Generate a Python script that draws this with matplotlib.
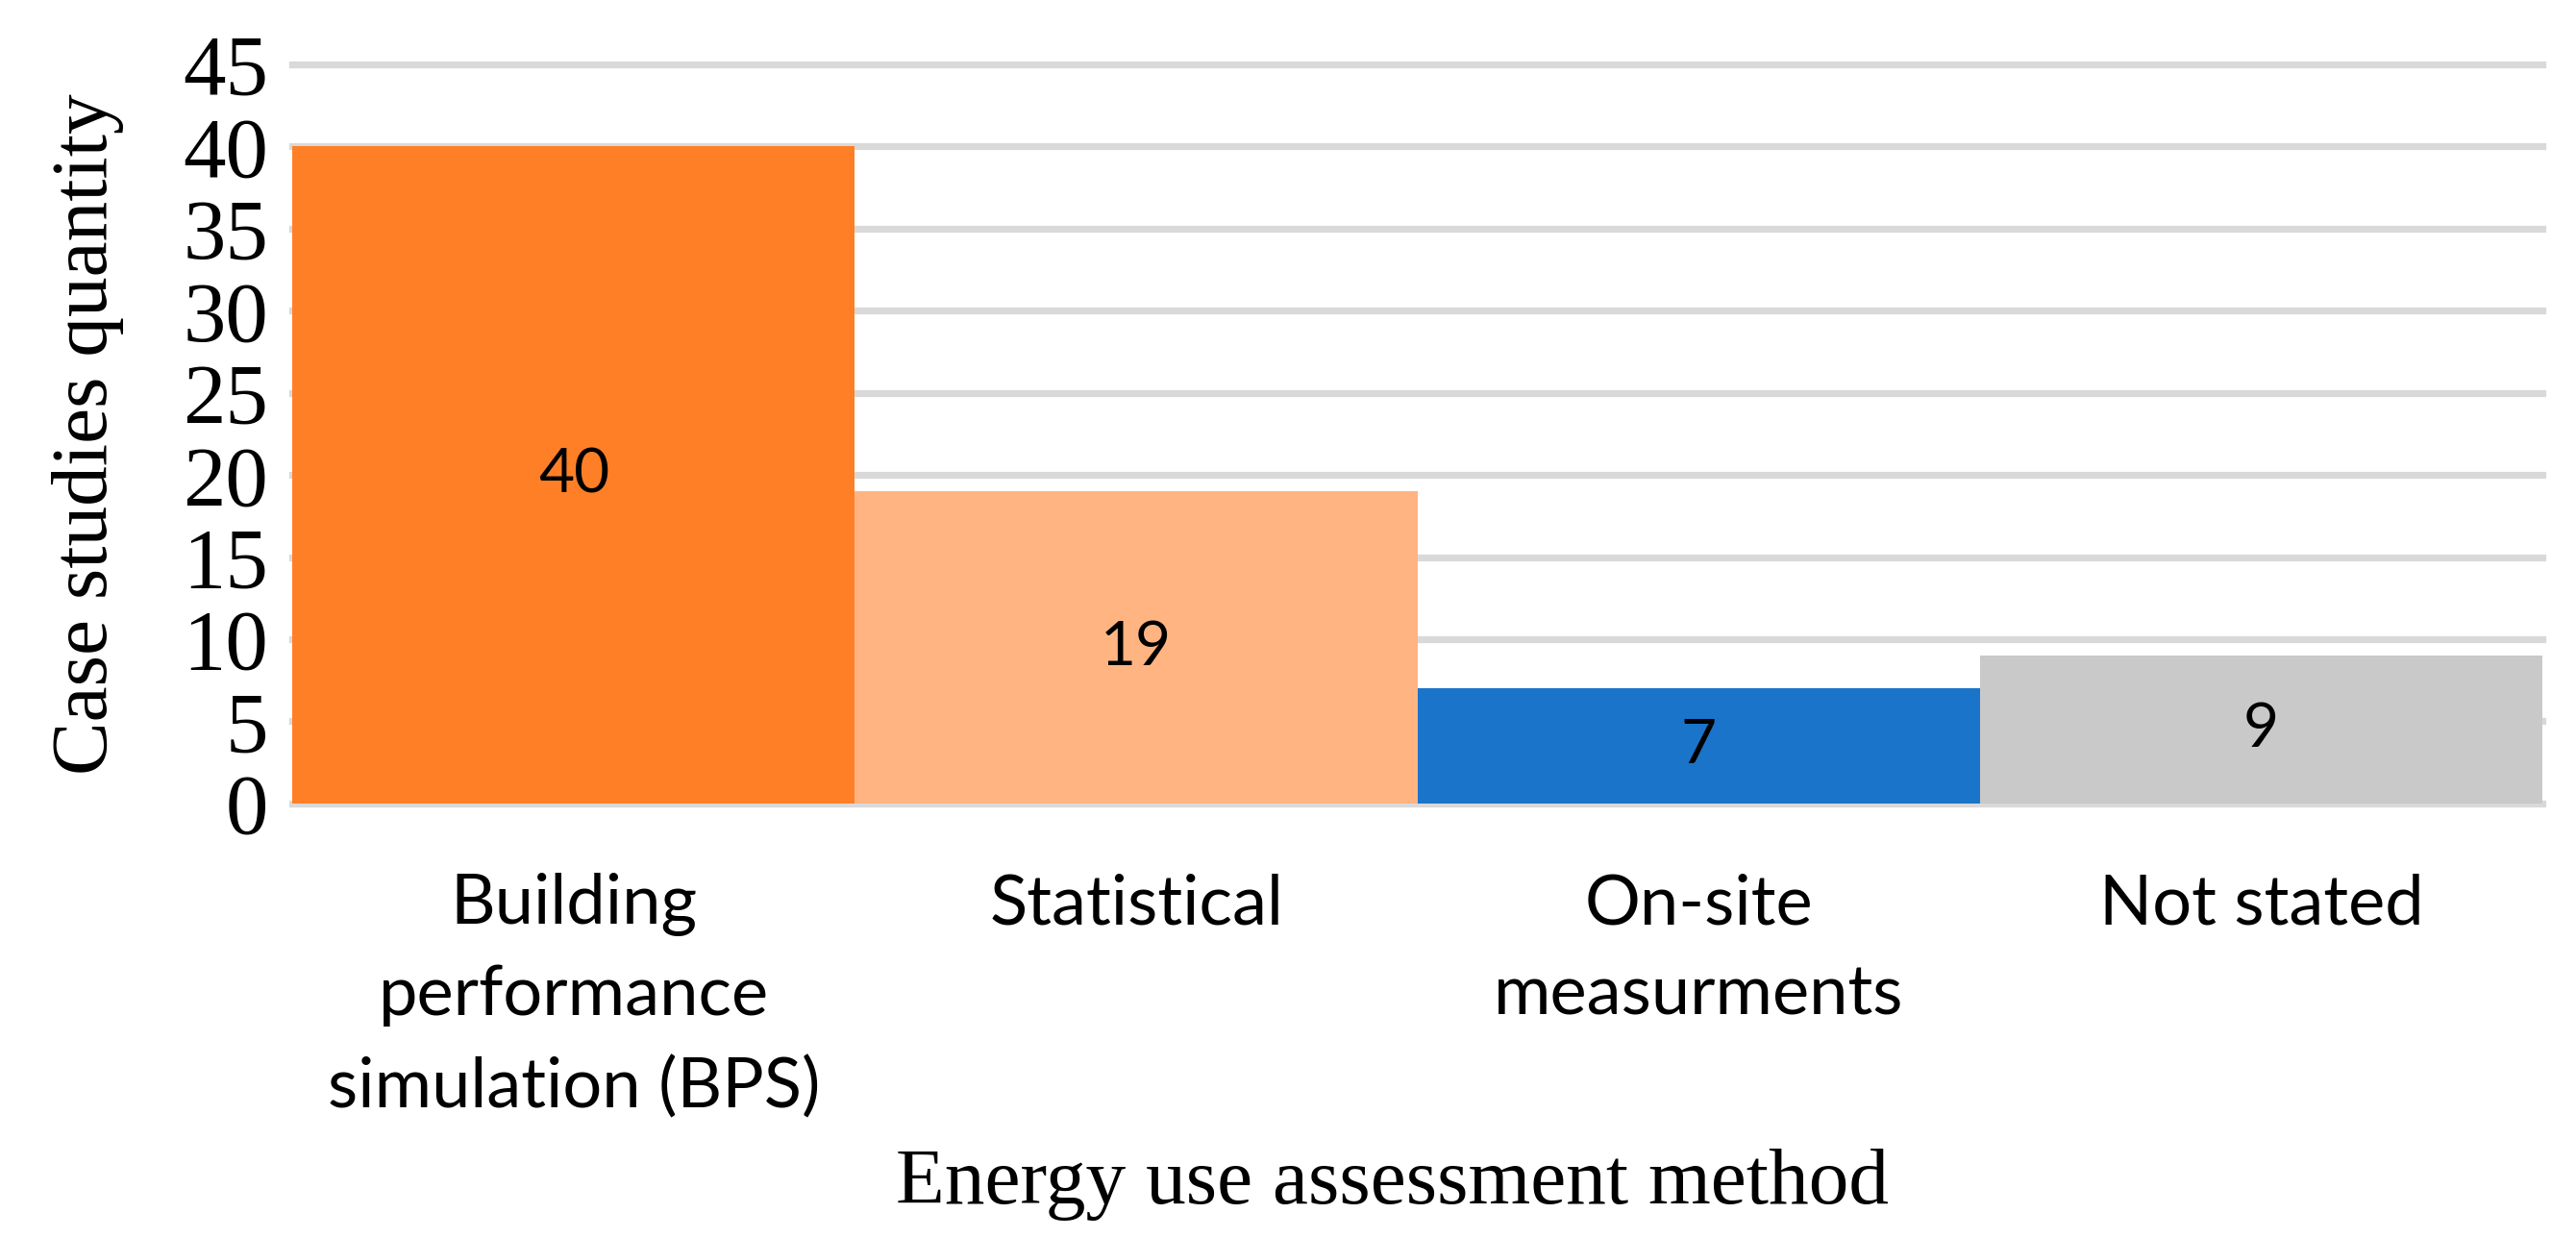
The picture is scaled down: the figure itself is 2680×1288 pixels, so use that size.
import numpy as np
from matplotlib import pyplot as plt

# data
methods = ['Building\nperformance\nsimulation (BPS)', 'Statistical', 'On-site\nmeasurments', 'Not stated']
counts = [40, 19, 7, 9]
bar_colors = ['#FF7F27', '#FFB482', '#1A74C9', '#C9C9C9']
yticks = [0, 5, 10, 15, 20, 25, 30, 35, 40, 45]

serif = ['Liberation Serif', 'DejaVu Serif']
sans = ['Lato', 'DejaVu Sans']

fig = plt.figure(figsize=(13.4, 6.44), dpi=200)
ax = fig.add_axes([0.1135, 0.351, 0.8735, 0.597])

x = np.arange(len(methods))
bars = ax.bar(x, counts, width=1.0, color=bar_colors, zorder=3)
ax.bar_label(bars, labels=[str(c) for c in counts], label_type='center',
             fontsize=23, family=sans, color='black')

# horizontal gridlines behind bars
for t in yticks:
    ax.axhline(t, color='#D9D9D9', linewidth=2.6, zorder=1, clip_on=False)

ax.set_xlim(-0.5, len(methods) - 0.5)
ax.set_ylim(0, 45)
ax.set_yticks(yticks)
ax.set_yticklabels([str(t) for t in yticks], fontsize=32, family=serif)
ax.set_xticks(x)
ax.set_xticklabels(methods, fontsize=26, family=sans, linespacing=1.55, va='top')
ax.tick_params(axis='both', length=0)
ax.tick_params(axis='y', pad=9)
ax.tick_params(axis='x', pad=26)

for s in ax.spines.values():
    s.set_visible(False)

ax.set_ylabel('Case studies quantity', fontsize=30, family=serif)
ax.yaxis.set_label_coords(-0.091, 0.5)
ax.set_xlabel('Energy use assessment method', fontsize=30, family=serif)
ax.xaxis.set_label_coords(0.489, -0.515)
ax.xaxis.label.set_va('center')
ax.yaxis.label.set_va('center')

plt.savefig('out.png', dpi=200)
